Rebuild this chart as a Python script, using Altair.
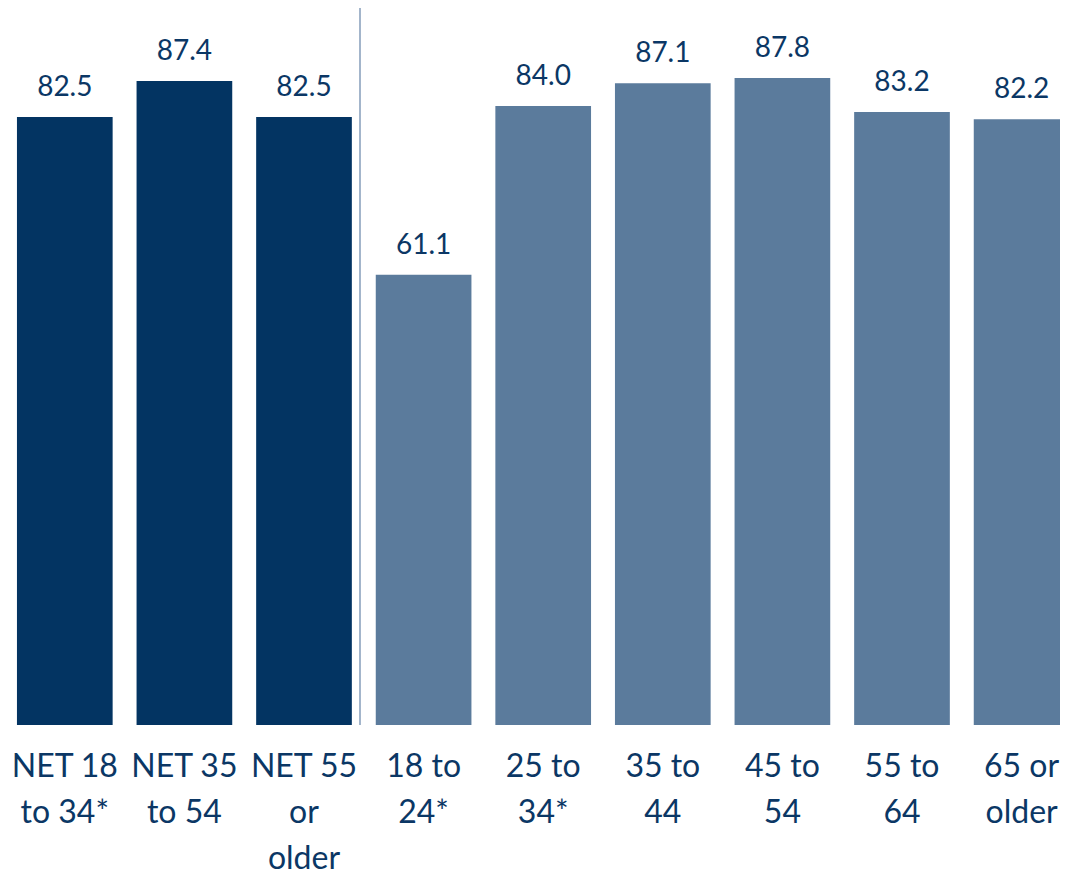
import altair as alt
import pandas as pd

categories = ["NET 18|to 34*", "NET 35|to 54", "NET 55|or|older", "18 to|24*",
              "25 to|34*", "35 to|44", "45 to|54", "55 to|64", "65 or|older"]
values = [82.5, 87.4, 82.5, 61.1, 84.0, 87.1, 87.8, 83.2, 82.2]
groups = ["net", "net", "net", "age", "age", "age", "age", "age", "age"]

df = pd.DataFrame({"cat": categories, "value": values, "group": groups})
df["label"] = df["value"].map(lambda v: f"{v:.1f}")

FONT = "Lato"
TEXT = "#0B3765"

x = alt.X("cat:N", sort=categories, title=None,
          scale=alt.Scale(range=[-3, 1073.4], paddingInner=0.2, paddingOuter=0.1),
          axis=alt.Axis(labelAngle=0, domain=False, ticks=False, grid=False,
                        labelExpr="split(datum.label, '|')", labelFont=FONT,
                        labelFontSize=32, labelColor=TEXT, labelLineHeight=46,
                        labelPadding=26, labelLimit=300, labelOverlap=False))
y = alt.Y("value:Q", scale=alt.Scale(domain=[0, 97.3], nice=False), axis=None)

base = alt.Chart(df)
bars = base.mark_bar().encode(
    x=x, y=y,
    color=alt.Color("group:N", scale=alt.Scale(domain=["net", "age"],
                                               range=["#033462", "#5B7B9C"]), legend=None),
)
text = base.mark_text(baseline="alphabetic", dy=-21, font=FONT, fontSize=28, color=TEXT).encode(
    x=x, y=y, text="label:N")
rule = alt.Chart(pd.DataFrame({"a": [0]})).mark_rule(color="#A3B5CB", strokeWidth=2).encode(
    x=alt.value(352), y=alt.value(0), y2=alt.value(717))

chart = alt.layer(bars, text, rule).properties(
    width=1052, height=717,
    padding={"left": 0, "top": 0, "right": 0, "bottom": 152},
    autosize=alt.AutoSizeParams(type="none"),
).configure_view(stroke=None)

chart.save("out.html", embed_options={"renderer": "svg", "actions": False})
